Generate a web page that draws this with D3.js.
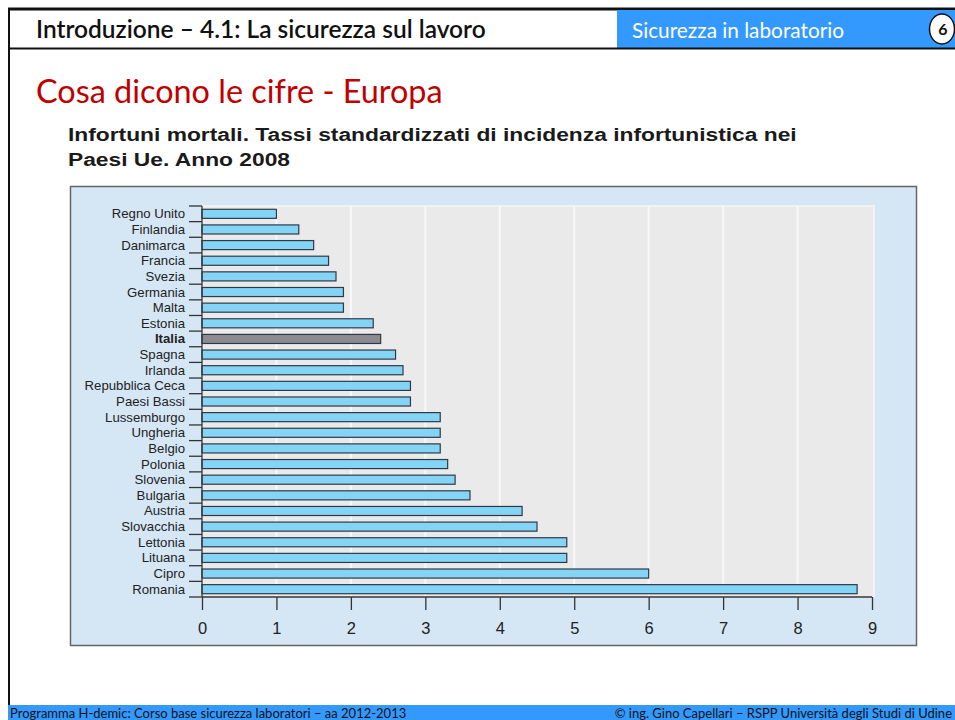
<!DOCTYPE html>
<html>
<head>
<meta charset="utf-8">
<script src="https://cdn.jsdelivr.net/npm/d3@7"></script>
<style>
  html, body { margin: 0; padding: 0; background: #fff; }
  svg { display: block; }
</style>
</head>
<body>
<div id="chart"></div>
<script>
// ── Data ─────────────────────────────────────────────────────────────────
const countries = [
  "Regno Unito", "Finlandia", "Danimarca", "Francia", "Svezia", "Germania",
  "Malta", "Estonia", "Italia", "Spagna", "Irlanda", "Repubblica Ceca",
  "Paesi Bassi", "Lussemburgo", "Ungheria", "Belgio", "Polonia", "Slovenia",
  "Bulgaria", "Austria", "Slovacchia", "Lettonia", "Lituana", "Cipro", "Romania",
];
const rates = [
  1.0, 1.3, 1.5, 1.7, 1.8, 1.9, 1.9, 2.3, 2.4, 2.6, 2.7, 2.8, 2.8, 3.2, 3.2,
  3.2, 3.3, 3.4, 3.6, 4.3, 4.5, 4.9, 4.9, 6.0, 8.8,
];
const xTicks = [0, 1, 2, 3, 4, 5, 6, 7, 8, 9];
const highlight = "Italia";

const rows = countries.map((c, i) => ({ country: c, value: rates[i] }));

// ── SVG ──────────────────────────────────────────────────────────────────
const W = 955, H = 720;
const svg = d3.select("#chart").append("svg").attr("width", W).attr("height", H);

const slideFont = "Lato, 'Noto Sans', sans-serif";
const chartFont = "'Liberation Sans', Arial, sans-serif";

// ── Slide frame ──────────────────────────────────────────────────────────
svg.append("line")
  .attr("x1", 9).attr("x2", 9).attr("y1", 8).attr("y2", 706)
  .attr("stroke", "#111").attr("stroke-width", 2);

svg.append("line")
  .attr("x1", 8).attr("x2", W).attr("y1", 9).attr("y2", 9)
  .attr("stroke", "#111").attr("stroke-width", 3);

svg.append("rect")
  .attr("x", 617).attr("y", 10).attr("width", W - 617).attr("height", 38)
  .attr("fill", "#3399ff");

svg.append("line")
  .attr("x1", 8).attr("x2", W).attr("y1", 48.5).attr("y2", 48.5)
  .attr("stroke", "#111").attr("stroke-width", 2);

svg.append("text")
  .attr("x", 36).attr("y", 38)
  .attr("font-family", slideFont).attr("font-size", 24.5).attr("font-weight", 600)
  .attr("fill", "#111")
  .text("Introduzione – 4.1: La sicurezza sul lavoro");

svg.append("text")
  .attr("x", 632).attr("y", 38)
  .attr("font-family", slideFont).attr("font-size", 20.8)
  .attr("fill", "#fff")
  .text("Sicurezza in laboratorio");

svg.append("ellipse")
  .attr("cx", 942).attr("cy", 29).attr("rx", 12.5).attr("ry", 15)
  .attr("fill", "#fff").attr("stroke", "#111").attr("stroke-width", 1.5);

svg.append("text")
  .attr("x", 943).attr("y", 35).attr("text-anchor", "middle")
  .attr("font-family", slideFont).attr("font-size", 16).attr("font-weight", 700)
  .attr("fill", "#111")
  .text("6");

svg.append("text")
  .attr("x", 36).attr("y", 103)
  .attr("font-family", slideFont).attr("font-size", 32.4)
  .attr("fill", "#c00000")
  .text("Cosa dicono le cifre - Europa");

// ── Chart subtitle ──────────────────────────────────────────────────────
const subtitle = [
  "Infortuni mortali. Tassi standardizzati di incidenza infortunistica nei",
  "Paesi Ue. Anno 2008",
];
svg.append("g")
  .attr("transform", "translate(68,0) scale(1.2,1)")
  .selectAll("text")
  .data(subtitle)
  .join("text")
  .attr("x", 0).attr("y", (d, i) => 141 + i * 25)
  .attr("font-family", chartFont).attr("font-size", 19).attr("font-weight", 700)
  .attr("fill", "#1a1a1a")
  .text((d) => d);

// ── Chart box ───────────────────────────────────────────────────────────
svg.append("rect")
  .attr("x", 70.5).attr("y", 186.5).attr("width", 846).attr("height", 459)
  .attr("fill", "#d5e7f5").attr("stroke", "#666").attr("stroke-width", 1.5);

const plot = { left: 202, right: 874, top: 206, bottom: 597 };

// ── Scales ──────────────────────────────────────────────────────────────
const x = d3.scaleLinear()
  .domain([0, 9])
  .range([plot.left, 872]);

const y = d3.scaleBand()
  .domain(countries)
  .range([plot.top, plot.bottom])
  .paddingInner(0.42)
  .paddingOuter(0.21);

// plot background
svg.append("rect")
  .attr("x", plot.left).attr("y", plot.top)
  .attr("width", plot.right - plot.left).attr("height", plot.bottom - plot.top)
  .attr("fill", "#ebeaea").attr("stroke", "#f6f6f6").attr("stroke-width", 1.5);

// vertical grid
svg.append("g")
  .selectAll("line")
  .data(xTicks.filter((t) => t > 0 && t < 9))
  .join("line")
  .attr("x1", (d) => x(d)).attr("x2", (d) => x(d))
  .attr("y1", plot.top).attr("y2", plot.bottom)
  .attr("stroke", "#f8f8f8").attr("stroke-width", 2);

// ── Bars ────────────────────────────────────────────────────────────────
svg.append("g")
  .selectAll("rect")
  .data(rows)
  .join("rect")
  .attr("x", x(0))
  .attr("y", (d) => y(d.country))
  .attr("width", (d) => x(d.value) - x(0))
  .attr("height", y.bandwidth())
  .attr("fill", (d) => (d.country === highlight ? "#8c8b92" : "#84d4f5"))
  .attr("stroke", "#2f3a48")
  .attr("stroke-width", 1.2);

// ── Y axis (ticks between categories) ───────────────────────────────────
const step = y.step();
const bounds = d3.range(countries.length + 1).map((i) => plot.top + i * step);

const yAxis = svg.append("g");
yAxis.append("line")
  .attr("x1", plot.left).attr("x2", plot.left)
  .attr("y1", plot.top).attr("y2", plot.bottom)
  .attr("stroke", "#333").attr("stroke-width", 1.3);
yAxis.selectAll("line.tick")
  .data(bounds)
  .join("line")
  .attr("class", "tick")
  .attr("x1", plot.left - 13).attr("x2", plot.left)
  .attr("y1", (d) => d).attr("y2", (d) => d)
  .attr("stroke", "#333").attr("stroke-width", 1.3);

yAxis.selectAll("text")
  .data(rows)
  .join("text")
  .attr("x", 185)
  .attr("y", (d) => y(d.country) + y.bandwidth() / 2 + 4.5)
  .attr("text-anchor", "end")
  .attr("font-family", chartFont).attr("font-size", 13.2)
  .attr("font-weight", (d) => (d.country === highlight ? 700 : 400))
  .attr("fill", "#222")
  .text((d) => d.country);

// ── X axis ──────────────────────────────────────────────────────────────
const xAxis = svg.append("g")
  .attr("transform", `translate(0,${plot.bottom})`)
  .call(d3.axisBottom(x).tickValues(xTicks).tickSize(13).tickPadding(12));
xAxis.select(".domain").attr("stroke", "#333").attr("stroke-width", 1.3)
  .attr("d", `M${x(0)},0H${x(9)}`);
xAxis.selectAll(".tick line").attr("stroke", "#333").attr("stroke-width", 1.3);
xAxis.selectAll(".tick text")
  .attr("font-family", chartFont).attr("font-size", 16.5).attr("fill", "#222");

// ── Footer ──────────────────────────────────────────────────────────────
svg.append("rect")
  .attr("x", 8).attr("y", 705).attr("width", W - 8).attr("height", 15)
  .attr("fill", "#3399ff");

svg.append("text")
  .attr("x", 10).attr("y", 718)
  .attr("font-family", slideFont).attr("font-size", 13)
  .attr("fill", "#111")
  .text("Programma H-demic: Corso base sicurezza laboratori – aa 2012-2013");

svg.append("text")
  .attr("x", 952).attr("y", 718).attr("text-anchor", "end")
  .attr("font-family", slideFont).attr("font-size", 13)
  .attr("fill", "#111")
  .text("© ing. Gino Capellari – RSPP Università degli Studi di Udine");
</script>
</body>
</html>
